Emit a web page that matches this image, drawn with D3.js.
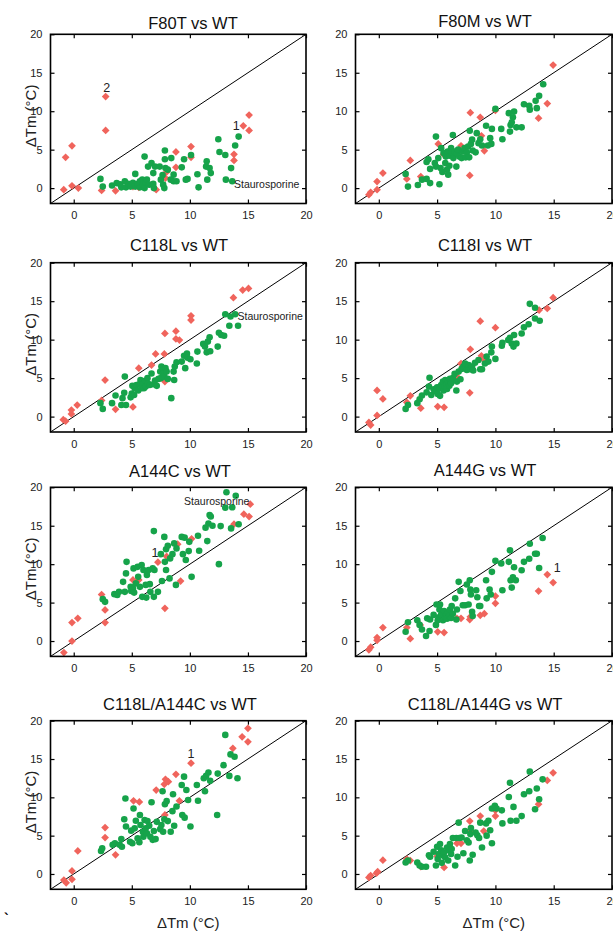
<!DOCTYPE html>
<html>
<head>
<meta charset="utf-8">
<script src="https://cdn.jsdelivr.net/npm/d3@7"></script>
<style>
  body { margin: 0; background: #fff; }
  svg { display: block; font-family: "Liberation Sans", Arial, sans-serif; }
  .tick text { font-size: 11px; fill: #222; }
</style>
</head>
<body>
<svg id="chart" width="613" height="934"></svg>
<script>
// panel titles, in reading order
const titles = ["F80T vs WT", "F80M vs WT", "C118L vs WT", "C118I vs WT",
                "A144C vs WT", "A144G vs WT", "C118L/A144C vs WT", "C118L/A144G vs WT"];
const ticks = [0, 5, 10, 15, 20];

// [WT dTm, mutant dTm]
const f80tRed = [[-0.86,-0.2],[-0.7,4.0],[-0.15,5.5],[-0.15,0.3],[0.4,0.0],[2.75,11.9],[2.75,7.5],[2.4,-0.3],[3.6,-0.35],[5.1,0.2],[5.6,0.1],[7.1,-0.2],[7.9,1.3],[8.0,2.1],[8.8,4.7],[8.8,2.7],[10.1,5.4],[10.1,4.0],[13.8,4.4],[13.8,3.6],[14.6,8.1],[15.1,9.5],[15.1,7.5]];
const f80tGreen = [[2.3,1.2],[2.5,0.2],[3.3,0.35],[3.7,0.65],[4.0,0.5],[4.1,0.1],[4.4,0.9],[4.5,0.1],[4.7,0.55],[4.9,0.2],[5.1,0.7],[5.3,1.85],[5.3,0.2],[5.5,0.55],[5.7,0.1],[5.7,0.9],[5.9,1.1],[5.95,0.45],[6.1,0.0],[6.1,4.1],[6.2,0.75],[6.3,1.1],[6.4,2.8],[6.5,0.45],[6.7,3.25],[6.85,1.95],[6.85,0.55],[7.0,2.8],[6.9,0.0],[7.4,2.8],[7.5,1.1],[7.65,1.7],[7.7,0.45],[7.8,0.0],[7.85,4.9],[7.85,3.75],[7.9,2.6],[8.1,2.4],[8.35,1.1],[8.4,3.9],[8.6,1.75],[8.6,0.9],[8.85,0.9],[9.3,2.7],[9.5,3.75],[9.65,1.1],[9.8,1.2],[10.1,4.3],[10.65,1.8],[10.75,0.1],[11.4,2.8],[11.45,3.5],[11.5,1.1],[11.7,2.6],[11.8,1.95],[12.45,6.35],[12.55,4.7],[13.05,4.3],[13.1,1.1],[13.55,2.6],[13.65,0.9],[13.9,5.55],[14.2,6.7]];

const f80mRed = [[-0.85,-0.85],[-0.7,-0.55],[-0.15,-0.2],[-0.15,0.85],[0.35,1.95],[2.4,1.2],[2.7,3.6],[3.6,1.5],[5.1,5.75],[5.55,4.4],[7.05,5.5],[7.8,1.65],[7.85,9.8],[8.7,9.2],[8.8,6.8],[9.05,4.85],[10.0,10.1],[13.7,9.1],[14.45,11.0],[14.95,16.0]];
const f80mGreen = [[2.3,1.85],[2.5,0.2],[3.35,0.4],[3.7,1.1],[4.1,1.2],[4.1,3.4],[4.25,3.75],[4.4,0.65],[4.4,2.5],[4.8,3.25],[4.9,6.7],[4.9,2.8],[5.1,3.9],[5.2,0.5],[5.3,2.6],[5.35,5.2],[5.45,2.1],[5.55,4.55],[5.7,3.25],[5.75,4.1],[5.85,2.4],[5.9,4.75],[5.95,1.75],[6.05,2.9],[6.1,4.2],[6.2,5.2],[6.25,4.65],[6.35,6.9],[6.4,3.9],[6.5,4.75],[6.65,2.8],[6.7,4.45],[6.8,5.0],[6.9,4.1],[7.1,3.9],[7.2,4.75],[7.35,5.2],[7.45,4.0],[7.55,4.65],[7.65,5.4],[7.75,4.0],[7.8,7.45],[7.9,5.75],[8.0,6.3],[8.05,4.9],[8.3,4.65],[8.4,7.15],[8.55,5.85],[8.7,6.35],[8.85,5.55],[9.2,8.1],[9.35,5.55],[9.55,6.5],[9.7,7.7],[9.65,5.75],[10.0,10.3],[10.5,7.7],[10.6,6.35],[11.15,9.75],[11.25,7.35],[11.3,8.2],[11.4,8.55],[11.5,9.2],[11.6,9.95],[11.8,7.9],[12.25,7.9],[12.45,10.9],[12.9,10.7],[12.95,10.2],[13.45,11.35],[13.55,10.4],[13.75,12.0],[14.1,13.5]];

const c118lRed = [[-0.9,-0.4],[-0.7,-0.6],[-0.2,0.85],[-0.2,0.35],[0.3,1.5],[2.4,2.1],[2.7,4.75],[3.6,0.95],[5.1,1.25],[5.6,6.3],[6.7,6.7],[7.05,8.15],[7.8,8.15],[7.85,10.8],[7.85,4.55],[8.8,11.1],[8.8,10.1],[9.1,9.95],[10.1,13.1],[10.1,12.55],[13.75,15.45],[14.55,16.45],[15.05,16.65]];
const c118lGreen = [[2.3,1.75],[2.5,1.0],[3.3,1.75],[3.6,2.75],[4.1,1.5],[4.2,2.4],[4.35,3.1],[4.4,5.2],[4.5,1.5],[4.9,2.5],[5.0,3.0],[5.05,4.0],[5.2,2.8],[5.25,3.7],[5.4,4.1],[5.55,3.4],[5.65,4.2],[5.75,4.75],[5.85,3.7],[5.95,4.25],[6.05,3.7],[6.15,4.65],[6.2,3.9],[6.35,5.0],[6.4,4.3],[6.55,4.1],[6.7,5.6],[6.85,4.2],[7.0,4.7],[7.15,4.0],[7.3,4.9],[7.45,5.85],[7.5,5.0],[7.55,6.5],[7.65,6.15],[7.7,5.6],[7.8,5.2],[7.9,6.3],[8.0,5.85],[8.1,4.9],[8.4,2.4],[8.6,5.85],[8.65,4.75],[8.7,6.5],[8.85,7.05],[9.3,7.15],[9.5,7.9],[9.6,6.3],[9.75,8.2],[9.8,7.65],[10.05,7.45],[10.6,6.9],[10.65,8.45],[11.15,9.45],[11.3,9.1],[11.45,8.35],[11.55,9.75],[11.7,10.3],[11.75,8.5],[12.4,9.1],[12.5,10.9],[12.7,10.6],[12.95,10.5],[13.05,13.3],[13.4,11.8],[13.5,13.0],[13.9,13.3],[14.15,11.8]];

const c118iRed = [[-0.85,-0.75],[-0.7,-1.1],[-0.15,3.4],[-0.15,0.15],[0.35,2.3],[2.4,1.85],[2.7,2.7],[3.6,1.1],[5.05,1.3],[5.6,1.2],[6.7,5.2],[7.05,6.9],[7.8,3.1],[7.85,8.75],[8.7,12.4],[8.8,7.9],[9.05,7.35],[10.0,11.55],[13.75,13.85],[14.45,14.05],[14.95,15.45]];
const c118iGreen = [[2.3,1.0],[2.5,1.5],[3.3,1.75],[3.5,2.25],[3.7,2.75],[4.1,3.15],[4.3,3.9],[4.35,5.05],[4.5,2.8],[4.7,3.55],[4.9,3.25],[5.0,3.8],[5.05,2.95],[5.2,3.7],[5.25,2.7],[5.35,4.1],[5.5,4.55],[5.55,3.4],[5.65,3.9],[5.7,4.75],[5.8,4.2],[5.85,3.6],[5.95,4.55],[6.05,4.0],[6.1,4.9],[6.2,4.35],[6.35,5.0],[6.5,5.55],[6.65,3.4],[6.7,4.55],[6.85,5.85],[7.0,4.85],[7.1,6.2],[7.25,6.5],[7.4,6.9],[7.55,6.05],[7.7,6.7],[7.85,6.15],[8.0,6.5],[8.1,6.0],[8.25,7.0],[8.55,7.35],[8.7,6.15],[8.85,6.15],[9.1,6.9],[9.25,7.8],[9.4,7.15],[9.65,8.35],[9.7,9.1],[10.0,7.5],[10.55,9.2],[10.6,9.6],[11.1,9.95],[11.25,10.25],[11.4,9.5],[11.55,9.1],[11.6,10.6],[11.8,9.5],[12.25,10.8],[12.45,11.6],[12.85,12.0],[12.95,14.65],[13.4,14.15],[13.4,12.75],[13.8,12.45]];

const a144cRed = [[-0.85,-1.5],[-0.15,2.4],[-0.15,0.0],[0.35,2.95],[2.4,6.05],[2.7,4.05],[2.7,2.4],[5.1,7.95],[5.6,7.95],[7.25,10.25],[7.85,4.25],[8.0,11.0],[8.95,12.6],[9.2,7.8],[10.15,13.3],[13.8,15.2],[14.65,16.5],[15.1,16.2],[15.2,17.8]];
const a144cGreen = [[2.5,5.45],[2.7,5.1],[3.5,6.1],[3.75,6.0],[3.9,6.4],[4.25,7.7],[4.4,6.4],[4.55,10.3],[4.5,8.8],[4.9,7.05],[4.95,6.5],[5.1,6.85],[5.15,9.45],[5.2,6.3],[5.35,7.5],[5.5,9.65],[5.55,8.35],[5.7,7.05],[5.85,9.9],[5.9,5.75],[6.0,9.25],[6.2,7.3],[6.25,5.65],[6.3,8.6],[6.45,9.25],[6.55,7.4],[6.6,6.4],[6.8,9.45],[6.9,14.3],[6.95,9.25],[6.9,5.75],[7.25,6.4],[7.5,11.3],[7.6,7.8],[7.8,13.55],[7.85,10.3],[7.95,11.95],[7.95,9.25],[8.1,12.4],[8.25,8.15],[8.3,10.75],[8.5,11.3],[8.65,12.7],[8.8,7.3],[8.85,12.05],[9.3,13.55],[9.4,11.3],[9.55,13.45],[9.65,10.55],[9.9,11.7],[9.95,12.9],[10.15,8.35],[10.7,13.7],[10.8,11.75],[11.35,14.75],[11.5,13.0],[11.6,15.3],[11.7,16.4],[11.8,16.2],[11.95,15.0],[12.5,10.0],[12.65,14.95],[13.05,17.35],[13.15,19.35],[13.55,14.65],[13.65,17.4],[13.95,18.9],[14.2,15.2]];

const a144gRed = [[-0.85,-1.15],[-0.7,-0.8],[-0.15,0.45],[-0.15,0.1],[0.35,1.75],[2.4,1.75],[2.7,0.3],[3.55,2.1],[5.05,1.2],[5.6,1.1],[6.7,2.95],[7.05,2.95],[7.8,2.8],[7.85,3.15],[8.7,3.35],[9.05,3.55],[10.0,5.85],[10.0,4.9],[13.7,6.5],[14.45,8.65],[14.95,7.6]];
const a144gGreen = [[2.3,1.2],[2.5,2.45],[3.3,2.7],[3.5,2.1],[3.7,1.5],[4.05,0.65],[4.15,2.95],[4.35,1.3],[4.4,2.8],[4.7,3.4],[4.9,2.1],[4.95,4.75],[5.05,2.7],[5.15,3.1],[5.2,4.1],[5.25,4.75],[5.35,3.45],[5.5,2.7],[5.6,3.9],[5.7,3.1],[5.8,3.45],[5.85,2.9],[5.95,3.7],[6.05,3.25],[6.1,4.1],[6.2,3.0],[6.25,4.55],[6.35,3.55],[6.55,5.55],[6.65,2.8],[6.7,4.1],[6.85,7.7],[7.0,6.5],[7.2,4.65],[7.4,4.65],[7.55,7.35],[7.7,4.75],[7.8,7.9],[7.85,6.7],[7.9,6.05],[8.0,3.8],[8.05,3.25],[8.35,6.6],[8.45,5.7],[8.6,4.55],[8.7,4.55],[9.2,7.9],[9.25,5.55],[9.5,6.7],[9.6,6.05],[9.7,9.0],[10.0,10.45],[10.5,10.1],[10.6,6.6],[11.15,10.3],[11.25,11.8],[11.3,7.9],[11.4,6.95],[11.5,8.3],[11.6,9.6],[11.75,7.9],[12.25,9.2],[12.45,10.3],[12.9,10.7],[12.95,12.65],[13.4,11.35],[13.55,11.35],[13.75,9.5],[14.05,13.4]];

const c118la144cRed = [[-0.85,-0.8],[-0.65,-1.15],[-0.15,0.4],[-0.15,-0.7],[0.35,3.0],[2.7,6.05],[2.7,4.75],[3.6,2.5],[5.15,9.55],[5.65,9.4],[7.1,10.95],[7.8,11.7],[7.9,12.35],[8.15,12.05],[8.8,13.0],[9.1,9.55],[7.85,7.7],[10.1,14.45],[13.7,16.4],[14.5,17.9],[15.0,19.0],[15.0,17.25]];
const c118la144cGreen = [[2.35,3.0],[2.45,3.35],[3.35,3.8],[3.55,4.0],[3.95,3.8],[4.1,4.55],[4.15,3.55],[4.35,7.15],[4.45,9.85],[4.5,6.2],[4.85,4.2],[4.95,5.65],[5.05,4.0],[5.15,8.55],[5.25,5.95],[5.35,6.95],[5.5,4.65],[5.65,4.15],[5.7,7.7],[5.75,6.4],[5.95,5.5],[6.0,4.85],[6.1,7.05],[6.2,5.95],[6.3,5.3],[6.35,6.9],[6.5,6.3],[6.6,4.85],[6.7,9.35],[6.8,4.45],[6.9,5.6],[7.05,4.55],[7.15,6.8],[7.45,5.85],[7.55,6.4],[7.65,10.8],[7.7,5.5],[7.8,7.15],[7.85,9.1],[8.0,9.5],[8.1,6.9],[8.35,5.5],[8.5,8.2],[8.55,10.4],[8.65,6.3],[8.85,8.8],[9.3,11.6],[9.35,7.7],[9.5,12.7],[9.55,7.35],[9.7,10.95],[9.85,9.65],[10.05,6.2],[10.6,11.6],[10.7,9.55],[11.2,12.5],[11.3,10.8],[11.4,12.8],[11.6,13.25],[11.75,12.15],[12.35,7.7],[12.4,13.1],[12.9,14.2],[13.05,18.15],[13.4,12.8],[13.5,15.6],[13.85,15.3],[14.1,12.5]];

const c118la144gRed = [[-0.85,-0.45],[-0.7,-0.2],[-0.2,0.1],[-0.1,0.3],[0.35,1.8],[2.4,1.95],[2.7,1.75],[3.6,0.95],[5.0,2.3],[5.6,0.85],[6.7,4.0],[7.05,4.0],[7.8,6.9],[7.85,5.5],[8.7,7.55],[9.0,5.6],[10.0,8.3],[10.0,7.55],[13.7,9.1],[14.45,12.2],[14.95,13.2]];
const c118la144gGreen = [[2.3,1.5],[2.5,1.75],[3.3,1.5],[3.5,1.1],[3.7,0.95],[4.05,0.95],[4.3,2.45],[4.4,2.25],[4.7,2.9],[4.9,1.1],[5.0,3.55],[5.05,1.95],[5.15,2.6],[5.25,3.9],[5.35,3.1],[5.4,1.45],[5.5,2.4],[5.6,2.8],[5.7,2.15],[5.85,3.45],[5.95,1.75],[6.05,3.05],[6.1,3.9],[6.2,2.6],[6.25,3.25],[6.35,4.7],[6.55,1.1],[6.65,4.7],[6.75,2.25],[6.85,6.7],[6.9,4.7],[7.1,4.75],[7.25,2.7],[7.4,5.6],[7.55,4.4],[7.7,4.1],[7.8,1.75],[7.85,5.2],[7.9,6.0],[8.05,2.5],[8.3,5.4],[8.45,5.05],[8.6,4.7],[8.7,6.7],[8.85,3.45],[9.2,6.6],[9.25,5.0],[9.4,6.95],[9.55,5.7],[9.7,8.55],[9.7,4.0],[9.95,8.9],[10.1,8.55],[10.55,8.3],[10.6,6.6],[11.15,10.05],[11.25,11.9],[11.3,6.95],[11.55,8.75],[11.8,6.95],[12.25,7.55],[12.45,10.4],[12.9,10.8],[12.95,13.35],[13.4,8.45],[13.55,11.15],[13.75,9.75],[14.05,12.35]];

const redSets = [f80tRed, f80mRed, c118lRed, c118iRed, a144cRed, a144gRed, c118la144cRed, c118la144gRed];
const greenSets = [f80tGreen, f80mGreen, c118lGreen, c118iGreen, a144cGreen, a144gGreen, c118la144cGreen, c118la144gGreen];

// text labels inside panels: [panel, text, x, y, anchor]
const notes = [
  [0, "2", 2.85, 13.1, "middle"],
  [0, "1", 14.0, 8.1, "middle"],
  [0, "Staurosporine", 13.8, 0.5, "start"],
  [2, "Staurosporine", 14.1, 13.0, "start"],
  [4, "Staurosporine", 9.5, 18.2, "start"],
  [4, "1", 7.0, 11.55, "middle"],
  [5, "1", 15.3, 9.5, "middle"],
  [6, "1", 10.1, 15.7, "middle"]
];

const svg = d3.select("#chart");
const colX = [[50.5, 306], [355.5, 612]];
const rowY = [[203.5, 34.3], [432, 262.7], [656.4, 487.3], [889.3, 720.7]];
const titleX = [193, 485, 179, 485, 180, 485, 180, 485];
const titleY = [29, 27, 250.5, 250.5, 476.5, 476, 710, 710];
const green = "#16a34a", red = "#f0645c";

titles.forEach((title, i) => {
  const col = i % 2, row = Math.floor(i / 2);
  const x = d3.scaleLinear().domain([-2, 20]).range(colX[col]);
  const y = d3.scaleLinear().domain([-2, 20]).range(rowY[row]);
  const g = svg.append("g");

  g.append("g")
    .attr("transform", `translate(0,${rowY[row][0]})`)
    .call(d3.axisBottom(x).tickValues(ticks).tickSize(-4).tickPadding(8))
    .call(a => a.select(".domain").remove());
  g.append("g")
    .attr("transform", `translate(0,${rowY[row][1]})`)
    .call(d3.axisTop(x).tickValues(ticks).tickSize(-4).tickFormat(""))
    .call(a => a.select(".domain").remove());
  g.append("g")
    .attr("transform", `translate(${colX[col][0]},0)`)
    .call(d3.axisLeft(y).tickValues(ticks).tickSize(-4).tickPadding(8))
    .call(a => a.select(".domain").remove());
  g.append("g")
    .attr("transform", `translate(${colX[col][1]},0)`)
    .call(d3.axisRight(y).tickValues(ticks).tickSize(-4).tickFormat(""))
    .call(a => a.select(".domain").remove());
  g.selectAll(".tick line").attr("stroke", "#000").attr("stroke-width", 1.2);

  g.append("line")
    .attr("x1", x(-2)).attr("y1", y(-2))
    .attr("x2", x(20)).attr("y2", y(20))
    .attr("stroke", "#000").attr("stroke-width", 1);

  g.selectAll(".diamond")
    .data(redSets[i]).enter()
    .append("path")
    .attr("class", "diamond")
    .attr("d", d3.symbol(d3.symbolSquare, 30))
    .attr("transform", d => `translate(${x(d[0])},${y(d[1])}) rotate(45)`)
    .attr("fill", red);

  g.selectAll(".dot")
    .data(greenSets[i]).enter()
    .append("circle")
    .attr("class", "dot")
    .attr("cx", d => x(d[0]))
    .attr("cy", d => y(d[1]))
    .attr("r", 3.3)
    .attr("fill", green);

  g.append("rect")
    .attr("x", colX[col][0]).attr("y", rowY[row][1])
    .attr("width", colX[col][1] - colX[col][0])
    .attr("height", rowY[row][0] - rowY[row][1])
    .attr("fill", "none").attr("stroke", "#000").attr("stroke-width", 1.6);

  notes.filter(n => n[0] === i).forEach(n => {
    g.append("text")
      .attr("x", x(n[2])).attr("y", y(n[3]))
      .attr("dy", "0.35em")
      .attr("text-anchor", n[4])
      .attr("font-size", n[1].length > 1 ? 10.5 : 12.5)
      .attr("fill", "#222")
      .text(n[1]);
  });

  g.append("text")
    .attr("x", titleX[i]).attr("y", titleY[i])
    .attr("text-anchor", "middle")
    .attr("font-size", 16.5)
    .attr("fill", "#111")
    .text(title);

  if (col === 0) {
    g.append("text")
      .attr("transform", `translate(36,${(rowY[row][0] + rowY[row][1]) / 2 - 3}) rotate(-90)`)
      .attr("text-anchor", "middle")
      .attr("font-size", 15)
      .attr("fill", "#222")
      .text("\u0394Tm (\u00B0C)");
  }
  if (row === 3) {
    g.append("text")
      .attr("x", (colX[col][0] + colX[col][1]) / 2 + 10)
      .attr("y", 928)
      .attr("text-anchor", "middle")
      .attr("font-size", 15)
      .attr("fill", "#222")
      .text("\u0394Tm (\u00B0C)");
  }
});

svg.append("text").attr("x", 4).attr("y", 924)
  .attr("font-size", 14).attr("font-weight", "bold").text("`");
</script>
</body>
</html>
